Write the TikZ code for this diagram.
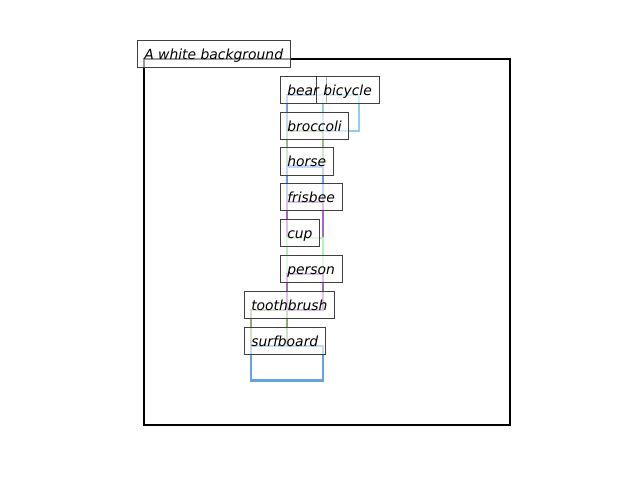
\documentclass[tikz,border=0pt]{standalone}
\usepackage{fontspec}
\setmainfont{DejaVu Sans}
\definecolor{cbear}{RGB}{115,163,215}
\definecolor{cbicycle}{RGB}{145,205,237}
\definecolor{cbroccoli}{RGB}{155,188,135}
\definecolor{chorse}{RGB}{105,155,235}
\definecolor{cfrisbee}{RGB}{170,100,198}
\definecolor{ccup}{RGB}{180,242,180}
\definecolor{cperson}{RGB}{165,105,195}
\definecolor{ctooth}{RGB}{145,170,115}
\definecolor{csurf}{RGB}{100,163,222}
\definecolor{lblborder}{RGB}{64,64,64}
\tikzset{
  bbox/.style={line width=1.9pt},
  lblbase/.style={font=\fontsize{10pt}{12pt}\selectfont\itshape, inner xsep=5pt, inner ysep=5pt,
    text height=8.64pt, text depth=1.44pt, anchor=base west, xshift=-5pt},
  lbl/.style={lblbase, draw=lblborder, line width=0.72pt, fill=white, fill opacity=0.6, draw opacity=1},
  lbltext/.style={lblbase},
  frame/.style={line width=1.5pt, draw=black}
}
\newcommand{\objlabel}[2]{%
  \node[lbl] (l#1) at (#1) {\phantom{#2}};
}
\newcommand{\objtext}[2]{%
  \node[lbltext] (t#1) at (#1) {#2};
}
\begin{document}
\begin{tikzpicture}[x=0.72pt,y=-0.72pt]
\useasboundingbox (0,0) rectangle (640,480);
% object boxes
\coordinate (bg) at (144,59);
\coordinate (bear) at (287,95);
\coordinate (bicycle) at (323,95);
\coordinate (broccoli) at (287,131);
\coordinate (horse) at (287,166.5);
\coordinate (frisbee) at (287,202);
\coordinate (cup) at (287,238);
\coordinate (person) at (287,274);
\coordinate (tooth) at (251,310);
\coordinate (surf) at (251,346);
\draw[bbox, draw=cbear] (bear) rectangle ++(36,36);
\draw[bbox, draw=cbicycle] (bicycle) rectangle ++(36,36);
\draw[bbox, draw=cbroccoli] (broccoli) rectangle ++(36,35.5);
\draw[bbox, draw=chorse] (horse) rectangle ++(36,35.5);
\draw[bbox, draw=cfrisbee] (frisbee) rectangle ++(36,36);
\draw[bbox, draw=ccup] (cup) rectangle ++(36,36);
\draw[bbox, draw=cperson] (person) rectangle ++(36,36);
\draw[bbox, draw=ctooth] (tooth) rectangle ++(36,36);
\draw[bbox, draw=csurf, line width=2.1pt] (surf) rectangle ++(72,34.5);
% axes frame
\draw[frame] (bg) rectangle (510,425);
% label boxes
\objlabel{bg}{A white background}
\objlabel{bear}{bear}
\objlabel{bicycle}{bicycle}
\objlabel{broccoli}{broccoli}
\objlabel{horse}{horse}
\objlabel{frisbee}{frisbee}
\objlabel{cup}{cup}
\objlabel{person}{person}
\objlabel{tooth}{toothbrush}
\objlabel{surf}{surfboard}
% label texts
\objtext{bg}{A white background}
\objtext{bear}{bear}
\objtext{bicycle}{bicycle}
\objtext{broccoli}{broccoli}
\objtext{horse}{horse}
\objtext{frisbee}{frisbee}
\objtext{cup}{cup}
\objtext{person}{person}
\objtext{tooth}{toothbrush}
\objtext{surf}{surfboard}
\end{tikzpicture}
\end{document}
